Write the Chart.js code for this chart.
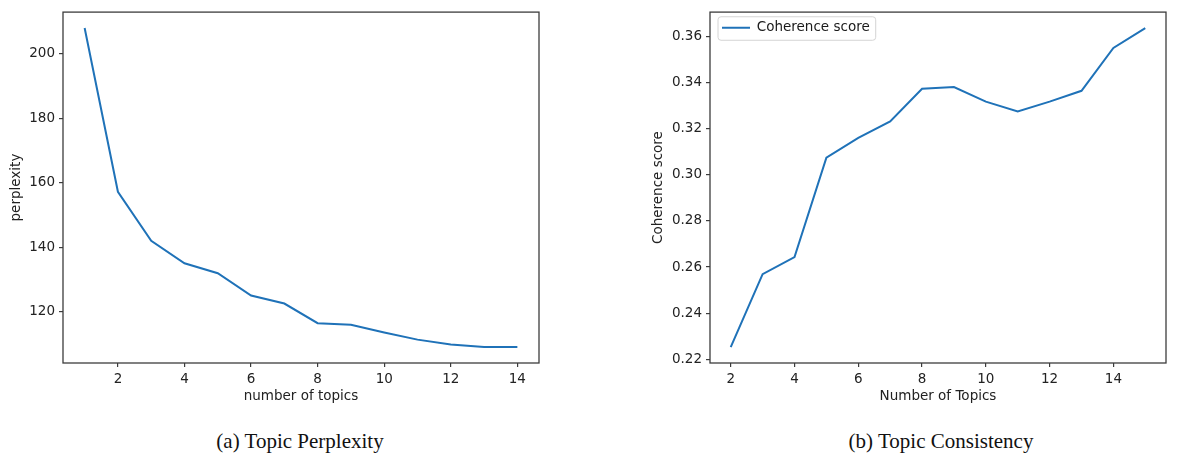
<!DOCTYPE html>
<html>
<head>
<meta charset="utf-8">
<title>Topic Perplexity / Topic Consistency</title>
<script src="https://cdn.jsdelivr.net/npm/chart.js@4.4.0/dist/chart.umd.min.js"></script>
<style>
  body { margin: 0; background: #fff; width: 1185px; height: 458px; position: relative; overflow: hidden; }
  #grafico1 { position: absolute; left: 0; top: 0; }
  #grafico2 { position: absolute; left: 640px; top: 0; }
  .caption { position: absolute; top: 429px; font-family: "Liberation Serif", "Times New Roman", serif; font-size: 21px; color: #111; transform: translateX(-50%); white-space: nowrap; }
</style>
</head>
<body>
<canvas id="grafico1" width="560" height="420"></canvas>
<canvas id="grafico2" width="545" height="420"></canvas>
<div class="caption" style="left:300px">(a) Topic Perplexity</div>
<div class="caption" style="left:941px">(b) Topic Consistency</div>
<script>
// (a) perplexity vs number of topics
const temasA = [1, 2, 3, 4, 5, 6, 7, 8, 9, 10, 11, 12, 13, 14]
const perplejidad = [208, 157.2, 142, 135, 131.9, 125, 122.5, 116.4, 115.9, 113.5, 111.3, 109.8, 109, 109]
const ticksXA = [2, 4, 6, 8, 10, 12, 14]
const ticksYA = [120, 140, 160, 180, 200]

// (b) coherence score vs number of topics
const temasB = [2, 3, 4, 5, 6, 7, 8, 9, 10, 11, 12, 13, 14, 15]
const coherencia = [0.2253, 0.2569, 0.2643, 0.3074, 0.316, 0.3231, 0.3373, 0.338, 0.3317, 0.3274, 0.3317, 0.3364, 0.355, 0.3636]
const ticksXB = [2, 4, 6, 8, 10, 12, 14]
const ticksYB = [0.22, 0.24, 0.26, 0.28, 0.30, 0.32, 0.34, 0.36]

const azul = '#1f72b8'
const gris = '#3c3c3c'
const fuente = { family: '"DejaVu Sans", sans-serif', size: 13.5 }

// margen de 5% como matplotlib
const margen = (arr) => {
    const min = Math.min(...arr), max = Math.max(...arr)
    const d = (max - min) * 0.05
    return [min - d, max + d]
}

// marco completo alrededor del area del grafico
const marco = {
    id: 'marco',
    afterDatasetsDraw(chart) {
        const { ctx, chartArea: a } = chart
        ctx.save()
        ctx.strokeStyle = gris
        ctx.lineWidth = 1.3
        ctx.strokeRect(a.left, a.top, a.right - a.left, a.bottom - a.top)
        ctx.restore()
    }
}

// caja de la leyenda estilo matplotlib
const cajaLeyenda = {
    id: 'cajaLeyenda',
    afterLayout(chart) {
        // bajar un poco la leyenda dentro del area
        chart.legend.top += 9
        chart.legend.bottom += 9
    },
    beforeDraw(chart) {
        const leg = chart.legend
        if (!leg || !leg.options.display || !leg.legendHitBoxes.length) return
        const hb = leg.legendHitBoxes[0]
        const cy = hb.top + hb.height / 2
        const x = hb.left - 4, y = cy - 11
        const w = hb.width + 10, h = 23.5
        const { ctx } = chart
        ctx.save()
        ctx.fillStyle = 'rgba(255,255,255,0.8)'
        ctx.strokeStyle = '#d4d4d4'
        ctx.lineWidth = 1
        ctx.beginPath()
        ctx.roundRect(x, y, w, h, 3)
        ctx.fill()
        ctx.stroke()
        ctx.restore()
    }
}

const crearEjes = (ticksX, ticksY, limX, limY, tituloX, tituloY, anchoY, padTituloY, formato) => ({
    x: {
        type: 'linear',
        min: limX[0],
        max: limX[1],
        afterBuildTicks: (scale) => { scale.ticks = ticksX.map(v => ({ value: v })) },
        afterFit: (scale) => { scale.height = 57 },
        border: { display: false },
        grid: { drawOnChartArea: false, drawTicks: true, tickLength: 4, color: gris, lineWidth: 1.2 },
        ticks: { color: '#222', font: fuente, padding: 4, maxRotation: 0, autoSkip: false },
        title: { display: true, text: tituloX, color: '#222', font: fuente, padding: { top: 0, bottom: 15 } }
    },
    y: {
        type: 'linear',
        min: limY[0],
        max: limY[1],
        afterBuildTicks: (scale) => { scale.ticks = ticksY.map(v => ({ value: v })) },
        afterFit: (scale) => { scale.width = anchoY },
        border: { display: false },
        grid: { drawOnChartArea: false, drawTicks: true, tickLength: 4, color: gris, lineWidth: 1.2 },
        ticks: { color: '#222', font: fuente, padding: 4, autoSkip: false, callback: formato },
        title: { display: true, text: tituloY, color: '#222', font: fuente, padding: { top: padTituloY, bottom: 0 } }
    }
})

const graficoPerplejidad = new Chart(document.querySelector('#grafico1'), {
    type: 'line',
    data: {
        datasets: [{
            label: 'perplexity',
            data: temasA.map((t, i) => ({ x: t, y: perplejidad[i] })),
            borderColor: azul,
            backgroundColor: azul,
            borderWidth: 2,
            pointRadius: 0,
            tension: 0
        }]
    },
    options: {
        responsive: false,
        animation: false,
        devicePixelRatio: 1,
        layout: { padding: { top: 10, right: 21, left: 0, bottom: 0 } },
        plugins: { legend: { display: false }, tooltip: { enabled: false } },
        scales: crearEjes(ticksXA, ticksYA, margen(temasA), margen(perplejidad),
            'number of topics', 'perplexity', 63, 8.5, (v) => v)
    },
    plugins: [marco]
})

const graficoCoherencia = new Chart(document.querySelector('#grafico2'), {
    type: 'line',
    data: {
        datasets: [{
            label: 'Coherence score',
            data: temasB.map((t, i) => ({ x: t, y: coherencia[i] })),
            borderColor: azul,
            backgroundColor: azul,
            borderWidth: 2,
            pointRadius: 0,
            tension: 0
        }]
    },
    options: {
        responsive: false,
        animation: false,
        devicePixelRatio: 1,
        layout: { padding: { top: 10, right: 19, left: 0, bottom: 0 } },
        plugins: {
            tooltip: { enabled: false },
            legend: {
                display: true,
                position: 'chartArea',
                align: 'start',
                labels: {
                    color: '#1a1a1a',
                    font: fuente,
                    boxWidth: 28,
                    boxHeight: 2,
                    padding: 12,
                    generateLabels: (chart) => Chart.defaults.plugins.legend.labels.generateLabels(chart)
                        .map(l => ({ ...l, lineWidth: 0, fillStyle: azul }))
                }
            }
        },
        scales: crearEjes(ticksXB, ticksYB, margen(temasB), margen(coherencia),
            'Number of Topics', 'Coherence score', 70, 10.5, (v) => Number(v).toFixed(2))
    },
    plugins: [marco, cajaLeyenda]
})
</script>
</body>
</html>
